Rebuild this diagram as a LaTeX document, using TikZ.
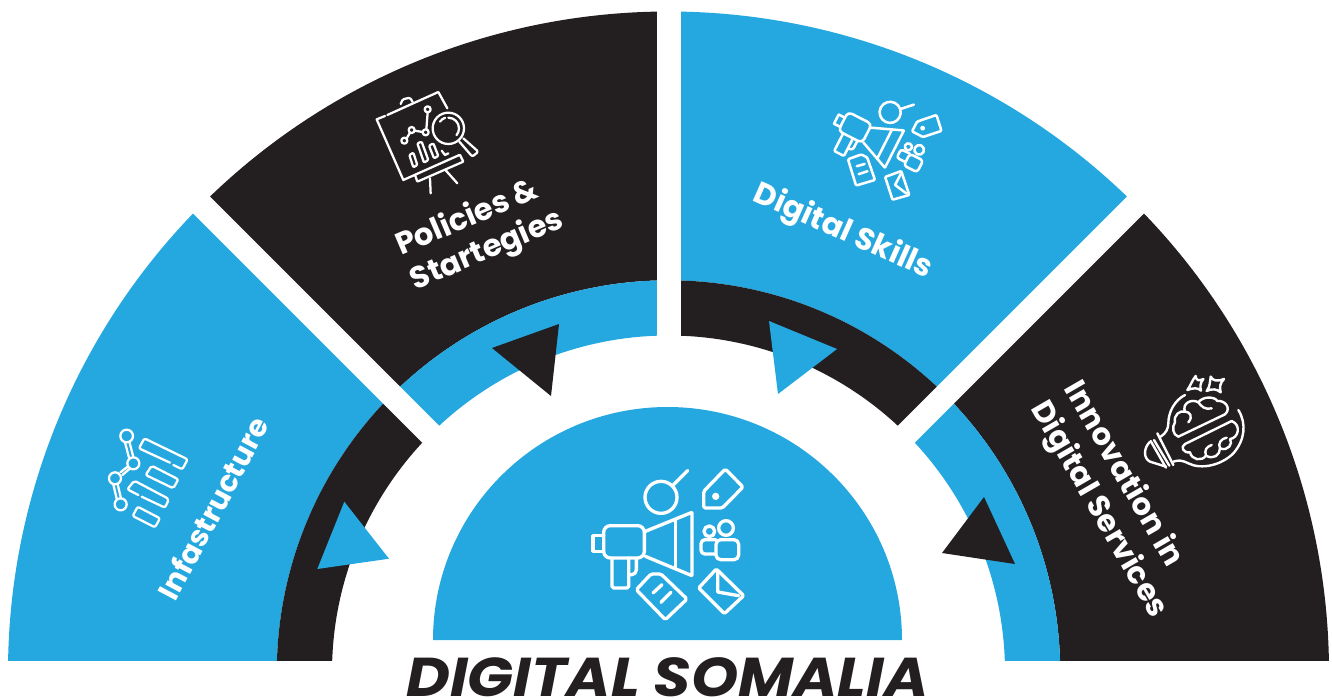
\documentclass[tikz,border=0pt]{standalone}
\usepackage{fontspec}
\setmainfont{Poppins}
\definecolor{sblue}{HTML}{25A8E0}
\definecolor{sblack}{HTML}{231F20}
\newcommand{\ringsector}[5]{\fill[#5] (668.5,672) ++(#1:#3) arc[start angle=#1,end angle=#2,radius=#3] -- ++(#2:#4-#3) arc[start angle=#2,end angle=#1,radius=#4] -- cycle;}
\newcommand{\promoicon}[1]{%
 \begin{scope}[shift={(-290,-250)}]
 \draw (272,113) circle[radius=48];
 \draw (306,79) -- (352,33);
 \draw[rounded corners=5*#1 pt] (465,28) -- (518,82) -- (456,145) -- (400,145) -- (400,95) -- cycle;
 \fill[white] (436,110) circle[radius=11];
 \draw[rounded corners=20*#1 pt] (100,198) rectangle (222,295);
 \draw (100,228) -- (68,228) -- (68,275) -- (100,275);
 \draw[rounded corners=5*#1 pt] (125,295) -- (125,385) -- (175,385) -- (175,295);
 \draw[rounded corners=14*#1 pt] (175,345) -- (198,345) -- (198,298);
 \draw[rounded corners=2*#1 pt] (225,215) -- (365,158) -- (365,348) -- (225,290);
 \draw (315,180) -- (315,328);
 \draw (417,215) circle[radius=16];
 \draw (467,205) circle[radius=22];
 \draw[rounded corners=14*#1 pt] (437,300) -- (505,300) -- (505,240) -- (437,240) -- cycle;
 \draw[rounded corners=12*#1 pt] (432,283) -- (392,283) -- (392,240) -- (437,240);
 \draw[rounded corners=5*#1 pt] (198,390) -- (242,343) -- (272,343) -- (350,418) -- (285,480) -- cycle;
 \draw (248,400) -- (275,375) (272,428) -- (302,398);
 \draw[rounded corners=4*#1 pt] (438,328) -- (520,408) -- (462,462) -- (385,385) -- cycle;
 \draw[rounded corners=2*#1 pt] (442,335) -- (442,397) -- (505,408);
 \end{scope}}
\tikzset{labeltext/.style={text=white,font=\bfseries\fontsize{23}{29}\selectfont,align=left,inner sep=0pt},
 iconline/.style={white,line cap=round,line join=round}}
\begin{document}
\begin{tikzpicture}[x=.75pt,y=.75pt,yscale=-1]
\useasboundingbox (0,0) rectangle (1332,697);
\begin{scope}
\clip (0,0) rectangle (1332,660);
\ringsector{180}{225}{660.5}{391.7}{sblue}
\ringsector{225}{270}{660.5}{391.7}{sblack}
\ringsector{270}{315}{660.5}{391.7}{sblue}
\ringsector{315}{360}{660.5}{391.7}{sblack}
\ringsector{180}{225}{391.7}{336.5}{sblack}
\ringsector{225}{270}{391.7}{336.5}{sblue}
\ringsector{270}{315}{391.7}{336.5}{sblack}
\ringsector{315}{360}{391.7}{336.5}{sblue}
\foreach \a in {225,270,315}
  \draw[white,line width=18pt] (668.5,672) -- ++(\a:680);
\end{scope}
% pointers
\fill[sblue] (344.3,501.7) -- (389,558.7) -- (317.3,569) -- cycle;
\fill[sblack] (559,324) -- (492,348) -- (551,396) -- cycle;
\fill[sblue] (769,321) -- (837,349) -- (778,394) -- cycle;
\fill[sblack] (984,497) -- (1015,564) -- (942,553) -- cycle;
% hub
\fill[sblue] (433,640) arc[start angle=180,end angle=360,x radius=234.5,y radius=233] -- cycle;
\begin{scope}[iconline,line width=2.5pt,shift={(667,543)},scale=1/3]
\promoicon{.25}
\end{scope}
\begin{scope}[iconline,line width=1.9pt,shift={(880,141)},rotate=27,scale=.22]
\promoicon{.165}
\end{scope}
% policies icon
\begin{scope}[iconline,line width=1.7pt,shift={(360,80)},scale=1/3]
\draw (82,105) -- (235,36) -- (262,85);
\draw (75,108) -- (50,118) -- (130,300) -- (298,225);
\draw[rounded corners=1pt] (122,72) -- (128,58) -- (150,53) -- (158,66);
\draw[rounded corners=.5pt] (165,285) -- (172,305) -- (310,245) -- (300,225);
\draw (210,295) -- (212,340) (258,272) -- (292,310);
\draw (133,182) circle[radius=9] (155,150) circle[radius=9] (197,157) circle[radius=9] (203,88) circle[radius=9];
\draw (140,175) -- (150,158) (164,152) -- (188,156) (199,148) -- (203,97);
\draw[rounded corners=.8pt] (148,225) -- (160,218) -- (172,255) -- (160,262) -- cycle;
\draw[rounded corners=.8pt] (172,190) -- (185,185) -- (205,240) -- (192,248) -- cycle;
\draw[rounded corners=.8pt] (207,197) -- (220,190) -- (235,228) -- (222,235) -- cycle;
\draw (245,212) -- (255,225) -- (265,220);
\draw (265,145) circle[radius=47];
\draw (240,125) arc[start angle=215,end angle=250,radius=32] ;
\draw (265,113) arc[start angle=270,end angle=400,radius=32];
\draw[rounded corners=1.5pt] (298,185) -- (337,230) -- (355,215) -- (310,175);
\end{scope}
% brain icon
\begin{scope}[iconline,line width=1.8pt,shift={(1130,365)},scale=1/3]
\draw (197,33) .. controls (198,45) and (205,50) .. (220,42) .. controls (210,55) and (210,65) .. (213,77) .. controls (205,68) and (190,68) .. (172,75) .. controls (182,62) and (185,48) .. cycle;
\draw (242,35) .. controls (250,48) and (260,50) .. (282,42) .. controls (270,55) and (268,65) .. (272,82) .. controls (260,72) and (248,70) .. (230,78) .. controls (240,65) and (240,50) .. cycle;
\draw (165,90) .. controls (135,105) and (115,140) .. (115,175) .. controls (115,190) and (108,205) .. (92,215);
\draw (325,135) .. controls (350,175) and (345,225) .. (310,265) .. controls (275,300) and (215,315) .. (175,295) .. controls (155,285) and (145,285) .. (130,290);
\draw (82,205) -- (130,300) (62,228) -- (108,308);
\draw (72,225) -- (118,302);
\draw (60,230) .. controls (40,250) and (40,280) .. (60,290) -- (108,305);
\draw (145,215) -- (285,148);
\draw (145,215) .. controls (128,210) and (125,185) .. (135,172) .. controls (130,150) and (150,135) .. (165,140) .. controls (155,115) and (185,100) .. (205,112) .. controls (220,92) and (255,95) .. (262,108) .. controls (285,105) and (305,130) .. (285,148);
\draw (165,237) -- (305,168);
\draw (165,237) .. controls (150,245) and (160,265) .. (180,262) .. controls (185,285) and (215,290) .. (228,272) .. controls (250,285) and (270,270) .. (270,250) .. controls (295,260) and (310,235) .. (300,222) .. controls (325,220) and (335,180) .. (305,168);
\draw (165,140) .. controls (180,140) and (190,155) .. (175,172);
\draw (205,112) .. controls (215,125) and (225,135) .. (245,130);
\draw (228,272) .. controls (222,255) and (230,245) .. (245,240);
\draw (270,250) .. controls (262,235) and (275,220) .. (290,218);
\end{scope}
% infrastructure icon
\begin{scope}[iconline,line width=1.7pt,shift={(95,420)},scale=1/3]
\draw (95,48) circle[radius=19] (115,130) circle[radius=18] (60,175) circle[radius=18] (77,253) circle[radius=18];
\draw (90,67) -- (102,113) (103,65) -- (115,111);
\draw (76,157) -- (98,140) (82,165) -- (102,148);
\draw (55,193) -- (65,236) (68,193) -- (78,235);
\draw[rounded corners=1.5pt] (225,128) -- (132,85) -- (148,55) -- (278,118) -- (262,148) -- (235,135);
\draw[rounded corners=1.5pt] (170,137) -- (250,178) -- (235,205) -- (152,165) -- cycle;
\draw[rounded corners=1.5pt] (130,225) -- (97,208) -- (118,182) -- (222,237) -- (210,263) -- (140,230);
\draw[rounded corners=1.5pt] (128,260) -- (195,295) -- (180,322) -- (113,288) -- cycle;
\end{scope}
% labels
\node[labeltext,font=\bfseries\fontsize{22.2}{26}\selectfont,rotate=62] (infra) at (213,508) {Infastructure};
\node[labeltext,rotate=23,font=\bfseries\fontsize{23}{28}\selectfont] (policies) at (480,234) {Policies \&\\Startegies};
\node[labeltext,rotate=-24] (skills) at (843,232) {Digital Skills};
\node[labeltext,rotate=-60] (innov) at (1115,500) {Innovation in\\Digital Services};
\node[text=sblack,inner sep=0pt,font=\bfseries\itshape\fontsize{41}{44}\selectfont,anchor=base,xscale=1.1] (title) at (667.5,696) {DIGITAL SOMALIA};
\end{tikzpicture}
\end{document}
